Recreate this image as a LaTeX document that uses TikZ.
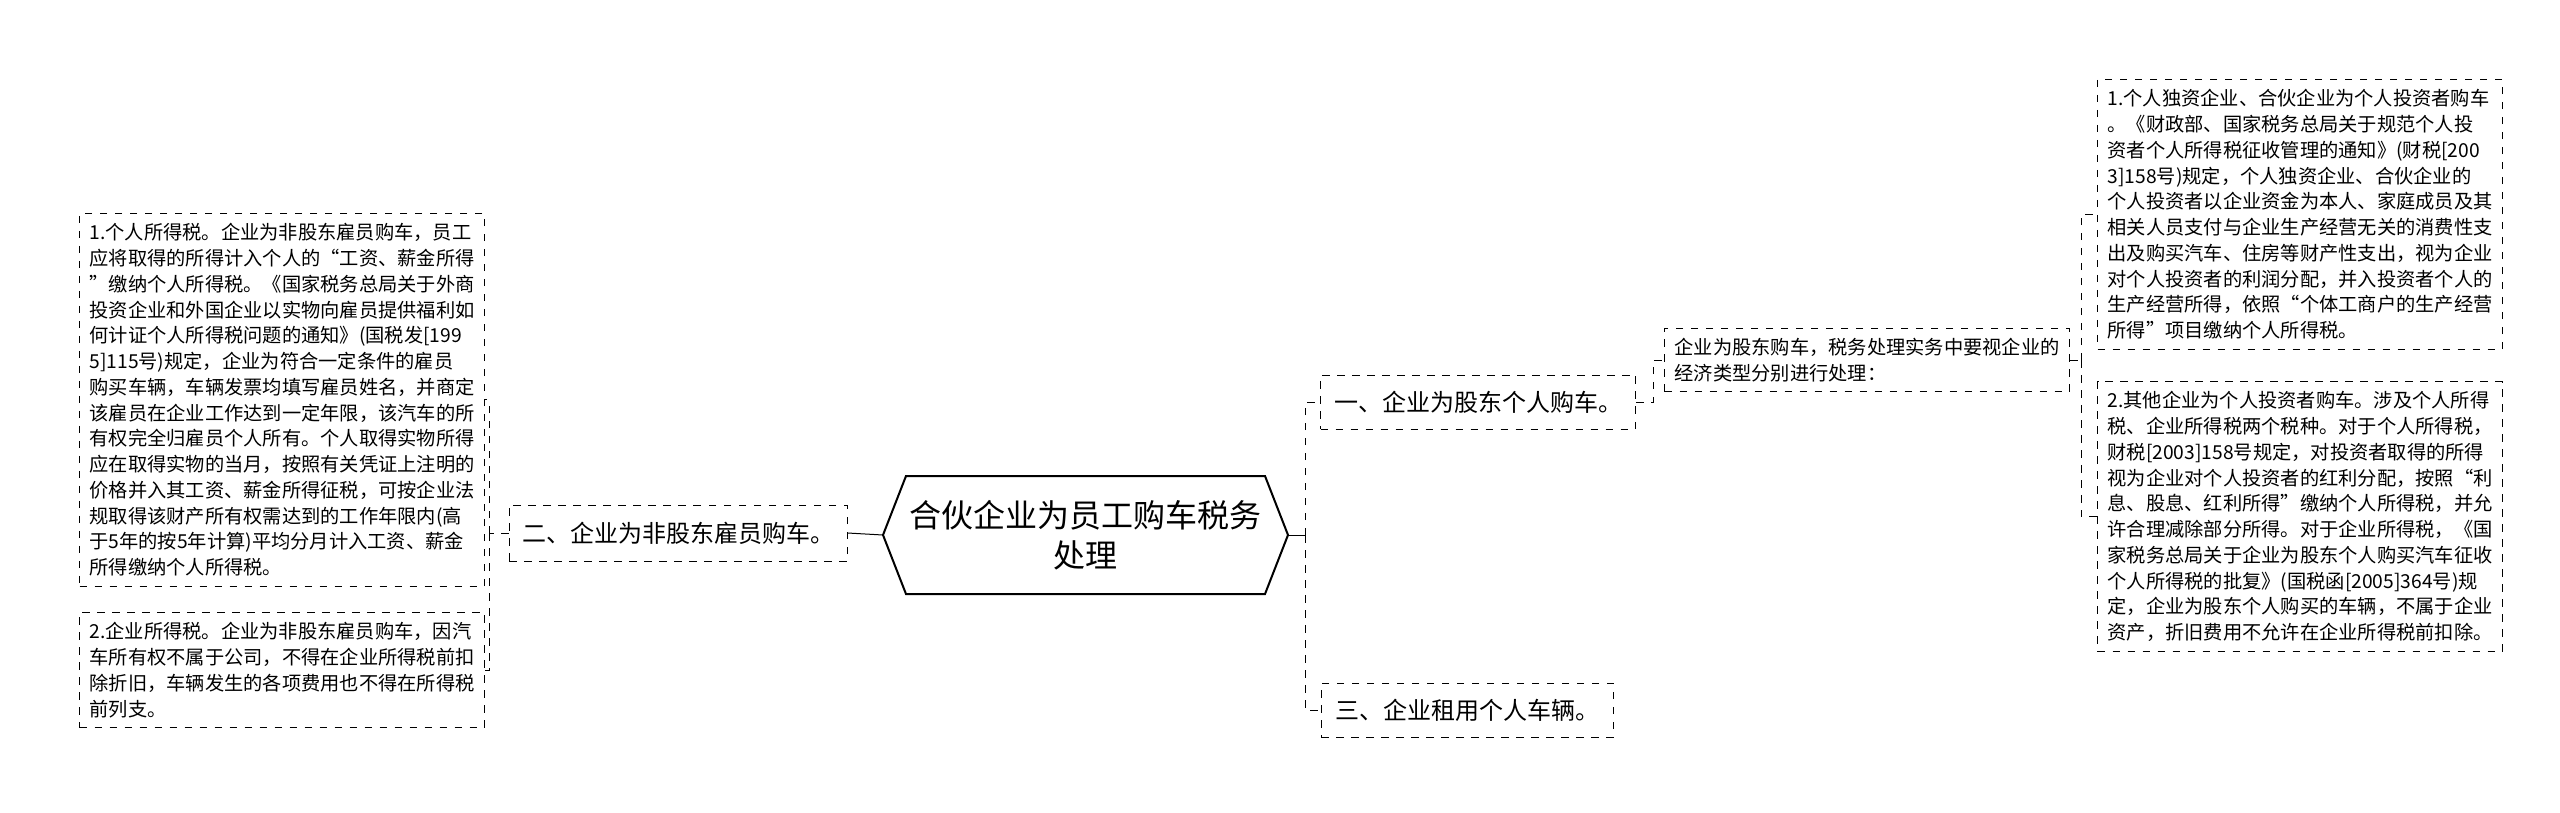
\documentclass[tikz,border=0pt]{standalone}
\usepackage{fontspec}
\setmainfont{Noto Sans CJK SC}
\usetikzlibrary{positioning}
\tikzset{
    leaf/.style={draw, dashed, thin, align=left, anchor=north west, inner sep=4pt, font=\fontsize{7.7}{10.3}\selectfont},
    branch/.style={draw, dashed, thin, inner sep=3pt, font=\fontsize{9.6}{12}\selectfont},
    conn/.style={draw, dashed, thin},
}
\begin{document}
\begin{tikzpicture}[x=0.4pt, y=-0.4pt]
    \useasboundingbox (0,0) rectangle (2560,813);

    % centre
    \node[font=\fontsize{12.8}{16}\selectfont, align=center] (root) at (1085,535) {合伙企业为员工购车税务\\处理};
    \draw[thick] (883,535) -- (906,476) -- (1265,476) -- (1288,535) -- (1265,594) -- (906,594) -- cycle;
    \coordinate (rootE) at (1288,535);
    \coordinate (rootW) at (883,535);

    % branches
    \node[branch, minimum width=338*0.4pt, minimum height=56*0.4pt] (left) at (678,533) {二、企业为非股东雇员购车。};
    \node[branch, minimum width=315*0.4pt, minimum height=54*0.4pt] (one) at (1478,402) {一、企业为股东个人购车。};
    \node[branch, minimum width=292*0.4pt, minimum height=54*0.4pt] (three) at (1467,710) {三、企业租用个人车辆。};
    \node[draw, dashed, thin, align=left, inner sep=4pt, font=\fontsize{7.7}{10.3}\selectfont] (mid) at (1867,360)
        {企业为股东购车，税务处理实务中要视企业的\\经济类型分别进行处理：};

    % leaves
    \node[leaf] (l1) at (79,213) {1.个人所得税。企业为非股东雇员购车，员工\\应将取得的所得计入个人的“工资、薪金所得\\”缴纳个人所得税。《国家税务总局关于外商\\投资企业和外国企业以实物向雇员提供福利如\\何计证个人所得税问题的通知》(国税发[199\\5]115号)规定，企业为符合一定条件的雇员\\购买车辆，车辆发票均填写雇员姓名，并商定\\该雇员在企业工作达到一定年限，该汽车的所\\有权完全归雇员个人所有。个人取得实物所得\\应在取得实物的当月，按照有关凭证上注明的\\价格并入其工资、薪金所得征税，可按企业法\\规取得该财产所有权需达到的工作年限内(高\\于5年的按5年计算)平均分月计入工资、薪金\\所得缴纳个人所得税。};
    \node[leaf] (l2) at (79,612) {2.企业所得税。企业为非股东雇员购车，因汽\\车所有权不属于公司，不得在企业所得税前扣\\除折旧，车辆发生的各项费用也不得在所得税\\前列支。};
    \node[leaf] (r1) at (2097,79) {1.个人独资企业、合伙企业为个人投资者购车\\。《财政部、国家税务总局关于规范个人投\\资者个人所得税征收管理的通知》(财税[200\\3]158号)规定，个人独资企业、合伙企业的\\个人投资者以企业资金为本人、家庭成员及其\\相关人员支付与企业生产经营无关的消费性支\\出及购买汽车、住房等财产性支出，视为企业\\对个人投资者的利润分配，并入投资者个人的\\生产经营所得，依照“个体工商户的生产经营\\所得”项目缴纳个人所得税。};
    \node[leaf] (r2) at (2097,381) {2.其他企业为个人投资者购车。涉及个人所得\\税、企业所得税两个税种。对于个人所得税，\\财税[2003]158号规定，对投资者取得的所得\\视为企业对个人投资者的红利分配，按照“利\\息、股息、红利所得”缴纳个人所得税，并允\\许合理减除部分所得。对于企业所得税，《国\\家税务总局关于企业为股东个人购买汽车征收\\个人所得税的批复》(国税函[2005]364号)规\\定，企业为股东个人购买的车辆，不属于企业\\资产，折旧费用不允许在企业所得税前扣除。};

    % connectors
    \coordinate (busR) at (1305,535);
    \coordinate (busL) at (489,533);
    \coordinate (busM) at (2081,360);
    \draw[thin] (rootE) -- (busR);
    \draw[thin] (rootW) -- (left.east);
    \draw[conn] (busR) |- (one.west);
    \draw[conn] (busR) |- (three.west);
    \draw[conn] (one.east) -- ++(17,0) |- (mid.west);
    \draw[conn] (left.west) -- (busL);
    \draw[conn] (busL) |- (l1.east);
    \draw[conn] (busL) |- (l2.east);
    \draw[conn] (mid.east) -- (busM);
    \draw[conn] (busM) |- (r1.west);
    \draw[conn] (busM) |- (r2.west);
\end{tikzpicture}
\end{document}
